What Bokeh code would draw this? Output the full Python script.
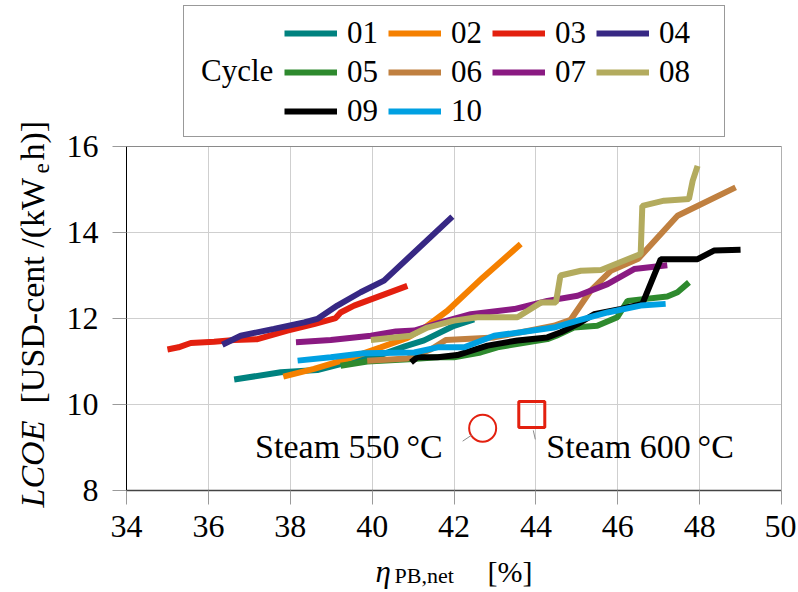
import numpy as np
from bokeh.plotting import figure
from bokeh.models import Range1d, FixedTicker, Legend, LegendItem, Label, LinearAxis
from bokeh.embed import file_html
from bokeh.resources import INLINE

# ---------------- data ----------------
cycles = ["01", "02", "03", "04", "05", "06", "07", "08", "09", "10"]
colors = ["#00827f", "#f58000", "#e3200f", "#372884", "#2e8a2e",
          "#c08040", "#8a1a82", "#b3ab5e", "#000000", "#00a0e2"]

x01 = [36.63, 37.77, 38.66, 39.23, 40.2, 40.8, 41.27, 42.0, 42.49]
y01 = [10.58, 10.75, 10.8, 10.94, 11.15, 11.35, 11.49, 11.83, 11.98]
x02 = [37.83, 38.58, 39.4, 40.21, 40.86, 41.3, 41.84, 42.7, 43.63]
y02 = [10.65, 10.83, 11.06, 11.33, 11.55, 11.8, 12.18, 12.95, 13.73]
x03 = [35.0, 35.27, 35.57, 36.14, 36.63, 37.2, 37.93, 38.58, 39.11, 39.23, 39.56, 40.86]
y03 = [11.28, 11.33, 11.43, 11.46, 11.5, 11.52, 11.72, 11.87, 12.01, 12.14, 12.3, 12.76]
x04 = [36.34, 36.79, 37.6, 38.34, 38.66, 39.15, 39.72, 40.29, 41.96]
y04 = [11.39, 11.6, 11.76, 11.91, 11.99, 12.3, 12.61, 12.88, 14.37]
x05 = [39.23, 39.88, 40.9, 41.6, 42.0, 42.65, 43.06, 44.28, 44.5, 44.93, 45.5, 45.99, 46.24, 47.21, 47.46, 47.74]
y05 = [10.9, 11.0, 11.05, 11.1, 11.1, 11.21, 11.33, 11.52, 11.6, 11.79, 11.83, 12.03, 12.41, 12.51, 12.61, 12.84]
x06 = [39.88, 40.86, 41.43, 41.8, 42.98, 44.44, 44.85, 45.34, 45.83, 46.5, 47.46, 48.88]
y06 = [11.02, 11.07, 11.28, 11.5, 11.56, 11.83, 11.97, 12.65, 13.11, 13.39, 14.39, 15.05]
x07 = [38.14, 38.99, 39.97, 40.58, 41.03, 41.68, 42.41, 43.47, 44.28, 45.02, 45.75, 46.4, 47.21]
y07 = [11.45, 11.5, 11.6, 11.7, 11.72, 11.91, 12.1, 12.22, 12.41, 12.53, 12.8, 13.15, 13.24]
x08 = [39.97, 40.94, 41.35, 42.0, 42.57, 43.55, 44.12, 44.49, 44.6, 45.1, 45.59, 46.56, 46.6, 47.13, 47.74, 47.83, 47.95]
y08 = [11.5, 11.6, 11.79, 11.95, 12.03, 12.03, 12.37, 12.37, 13.0, 13.11, 13.13, 13.5, 14.62, 14.74, 14.78, 15.2, 15.55]
x09 = [40.95, 41.1, 41.6, 42.08, 42.82, 43.55, 44.28, 44.61, 45.02, 45.42, 46.08, 46.6, 47.05, 47.95, 48.35, 49.0]
y09 = [10.98, 11.1, 11.1, 11.15, 11.37, 11.49, 11.56, 11.68, 11.87, 12.1, 12.22, 12.34, 13.38, 13.38, 13.58, 13.6]
x10 = [38.18, 38.99, 39.8, 41.03, 41.6, 42.25, 42.98, 43.63, 44.44, 45.02, 45.75, 46.56, 47.17]
y10 = [11.02, 11.1, 11.19, 11.21, 11.33, 11.33, 11.6, 11.68, 11.79, 11.95, 12.14, 12.3, 12.34]

steam_labels = ["Steam 550\u2009°C", "Steam 600\u2009°C"]
steam_x = [42.70, 43.90]
steam_y = [9.45, 9.77]

x_ticks = [34, 36, 38, 40, 42, 44, 46, 48, 50]
y_ticks = [8, 10, 12, 14, 16]

series_x = [x01, x02, x03, x04, x05, x06, x07, x08, x09, x10]
series_y = [y01, y02, y03, y04, y05, y06, y07, y08, y09, y10]

# ---------------- layout (pixels) ----------------
FONT = "Liberation Serif"
W, H = 796, 590
AX_L, AX_T = 126, 146          # data-area left / top in canvas pixels
AW, AH = 655, 344              # data-area size in pixels
xmin, xmax = x_ticks[0], x_ticks[-1]
ymin, ymax = y_ticks[0], y_ticks[-1]
kx = (xmax - xmin) / AW
ky = (ymax - ymin) / AH
x_range = Range1d(xmin - AX_L * kx, xmax + (W - AX_L - AW) * kx)
y_range = Range1d(ymin - (H - AX_T - AH) * ky, ymax + AX_T * ky)

p = figure(width=W, height=H, x_range=x_range, y_range=y_range,
           output_backend="svg", toolbar_location=None,
           min_border=0, min_border_left=0, min_border_right=0,
           min_border_top=0, min_border_bottom=0)
p.background_fill_color = "white"
p.border_fill_color = "white"
p.outline_line_color = None

p.xaxis.fixed_location = ymin
p.yaxis.fixed_location = xmin
p.xaxis.bounds = (xmin, xmax)
p.yaxis.bounds = (ymin, ymax)
p.xaxis.ticker = FixedTicker(ticks=x_ticks)
p.yaxis.ticker = FixedTicker(ticks=y_ticks)
for ax in (p.xaxis, p.yaxis):
    ax.major_label_text_font = FONT
    ax.major_label_text_font_size = "32px"
    ax.major_label_text_color = "black"
    ax.major_tick_line_color = "#9a9a9a"
    ax.major_tick_out = 14
    ax.major_tick_in = 0
    ax.minor_tick_line_color = None
p.xaxis.axis_line_color = "#444444"
p.xaxis.axis_line_width = 1.5
p.yaxis.axis_line_color = "black"
p.yaxis.axis_line_width = 1
p.xaxis.major_label_standoff = 11
p.yaxis.major_label_standoff = 14

# box border (top / right)
top_ax = LinearAxis(fixed_location=ymax, bounds=(xmin, xmax), ticker=FixedTicker(ticks=[]),
                    axis_line_color="#8a8a8a", major_tick_line_color=None,
                    minor_tick_line_color=None, major_label_text_font_size="0px")
right_ax = LinearAxis(fixed_location=xmax, bounds=(ymin, ymax), ticker=FixedTicker(ticks=[]),
                      axis_line_color="#b0b0b0", major_tick_line_color=None,
                      minor_tick_line_color=None, major_label_text_font_size="0px")
p.add_layout(top_ax, "above")
p.add_layout(right_ax, "right")

# grid limited to the data box
p.xgrid.ticker = FixedTicker(ticks=x_ticks)
p.ygrid.ticker = FixedTicker(ticks=y_ticks)
grid_ok = True
try:
    p.xgrid.bounds = (xmin, xmax)
    p.ygrid.bounds = (ymin, ymax)
    p.xgrid.cross_bounds = (ymin, ymax)
    p.ygrid.cross_bounds = (xmin, xmax)
except Exception:
    grid_ok = False
if grid_ok:
    for g in (p.xgrid, p.ygrid):
        g.grid_line_color = "#cfcfcf"
        g.grid_line_width = 1
        g.level = "underlay"
else:
    p.xgrid.grid_line_color = None
    p.ygrid.grid_line_color = None
    p.multi_line([[t, t] for t in x_ticks], [[ymin, ymax] for t in x_ticks],
                 line_color="#cfcfcf", line_width=1)
    p.multi_line([[xmin, xmax] for t in y_ticks], [[t, t] for t in y_ticks],
                 line_color="#cfcfcf", line_width=1)

renderers = []
for xs, ys, c in zip(series_x, series_y, colors):
    r = p.line(xs, ys, line_color=c, line_width=6)
    renderers.append(r)

# markers
red = "#e3200f"
p.scatter([steam_x[0]], [steam_y[0]], marker="circle", size=27,
          fill_color=None, line_color=red, line_width=2)
p.scatter([steam_x[1]], [steam_y[1]], marker="square", size=26,
          fill_color=None, line_color=red, line_width=3)

# pin connector lines (pixel offsets from markers)
pins = [((-20, 13), (-11, 7)), ((1.5, 16), (3.5, 25))]
for (mx, my), ((ax0, ay0), (ax1, ay1)) in zip(zip(steam_x, steam_y), pins):
    p.segment(x0=[mx + ax0 * kx], y0=[my - ay0 * ky],
              x1=[mx + ax1 * kx], y1=[my - ay1 * ky],
              line_color="#8c8c8c", line_width=1)

p.add_layout(Label(x=steam_x[0], y=steam_y[0], x_offset=-40, y_offset=-18,
                   text=steam_labels[0], text_align="right",
                   text_baseline="middle", text_font=FONT,
                   text_font_size="34px", text_color="black"))
p.add_layout(Label(x=steam_x[1], y=steam_y[1], x_offset=14.5, y_offset=-32,
                   text=steam_labels[1], text_align="left",
                   text_baseline="middle", text_font=FONT,
                   text_font_size="34px", text_color="black"))

# ---------------- legend ----------------
dummy = p.line(x01, y01, line_alpha=0)
box = Legend(items=[LegendItem(label="Cycle", renderers=[dummy])],
             location=(183, H - 7 - 130), padding=0, margin=0,
             glyph_width=8, glyph_height=130, label_standoff=9,
             label_width=523, label_height=130,
             label_text_font=FONT, label_text_font_size="31px",
             label_text_color="black",
             border_line_color="#333333", border_line_width=1.5,
             background_fill_color="white", background_fill_alpha=1)
p.add_layout(box)

leg = Legend(items=[LegendItem(label=c, renderers=[r]) for c, r in zip(cycles, renderers)],
             location=(284, H - 15.3 - 114), orientation="horizontal", ncols=4,
             padding=0, margin=0, spacing=3,
             glyph_width=53, glyph_height=36, label_standoff=10,
             label_width=38, label_height=36,
             label_text_font=FONT, label_text_font_size="31px",
             label_text_color="black",
             border_line_alpha=0, background_fill_alpha=0)
p.add_layout(leg)

# ---------------- axis titles (pieces, canvas pixel positions) ----------------
def lab(text, x, y, size, style="normal", angle=0.0, align="left"):
    p.add_layout(Label(x=x, y=H - y, x_units="screen", y_units="screen", text=text,
                       angle=angle, text_align=align, text_baseline="middle",
                       text_font=FONT, text_font_size=size, text_font_style=style,
                       text_color="black"))

# x label: eta_{PB,net} [%]
lab("\u03b7", 375, 571, "31px", "italic")
lab("PB,net", 394, 575, "22px")
lab("[%]", 487, 571, "30px")

# y label: LCOE [USD-cent /(kW_e h)]
A = np.pi / 2
lab("LCOE", 32, 507, "34px", "italic", A)
lab("[USD-cent /(kW", 32, 403, "34px", "normal", A)
lab("e", 41, 173, "23px", "normal", A)
lab("h)]", 32, 160, "34px", "normal", A)

open("out.html", "w").write(file_html(p, INLINE))
